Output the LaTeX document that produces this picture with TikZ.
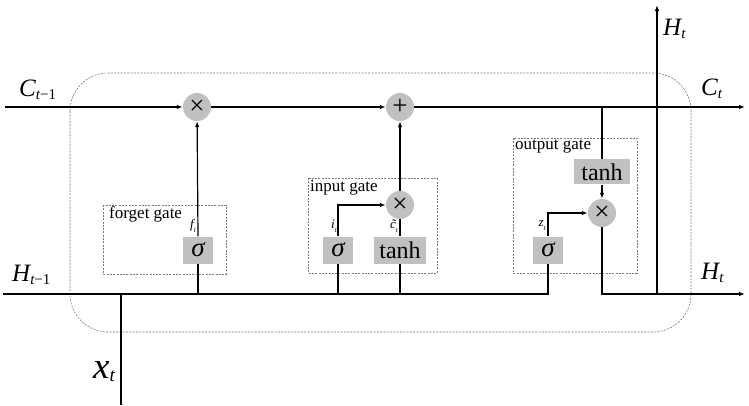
\documentclass[tikz,border=0pt]{standalone}
\usepackage{fontspec}
\setmainfont{Liberation Serif}
\usetikzlibrary{arrows.meta}
\definecolor{gatefill}{RGB}{192,192,192}
\definecolor{dashgray}{RGB}{120,120,120}
\newcommand{\fs}[1]{\fontsize{#1}{#1}\selectfont}
\begin{document}
\begin{tikzpicture}[x=1pt,y=-1pt,
  line/.style={line width=1.2pt,black},
  arr/.style={line, -{Latex[length=6pt,width=4.5pt]}},
  op/.style={circle,fill=gatefill,minimum size=28pt,inner sep=0pt,font=\fs{27}},
  gbox/.style={fill=gatefill,minimum height=27pt,inner sep=0pt},
  sig/.style={gbox,minimum width=30pt,font=\fs{27}\itshape},
  th/.style={gbox,font=\fs{24}},
  gatebox/.style={draw=dashgray,dash pattern=on 2pt off 1.3pt,line width=0.6pt},
  gatelab/.style={font=\fs{17},anchor=north west,inner sep=0pt},
  small/.style={font=\fs{13}\itshape,inner sep=0pt}
]
\useasboundingbox (0,0) rectangle (749,406);

% outer dashed cell
\draw[gatebox,rounded corners=38pt] (70,73) rectangle (691,332);

% gate boxes
\draw[gatebox] (103,205) rectangle (226,274);
\draw[gatebox] (308,178) rectangle (437,273);
\draw[gatebox] (513,138) rectangle (637,273);
\node[gatelab] (lf) at (109,206) {forget gate};
\node[gatelab] (li) at (310,180) {input gate};
\node[gatelab] (lo) at (515,140) {output gate};

% operators
\node[op] (m1) at (197,107) {×};
\node[op] (a1) at (400,107) {+};
\node[op] (m2) at (400,205) {×};
\node[op] (m3) at (602,213) {×};

% activation boxes
\node[sig] (sf) at (198,250) {σ};
\node[sig] (si) at (338,250) {σ};
\node[sig] (so) at (548,250) {σ};
\node[th,minimum width=52pt] (ti) at (400,250) {tanh};
\node[th,minimum width=56pt,minimum height=25pt] (to) at (602,172) {tanh};

% small labels
\node[small] (ft) at (193,226) {f\raisebox{-0.3em}{\fs{7}t}};
\node[small] (it) at (334,226) {i\raisebox{-0.3em}{\fs{7}t}};
\node[small] (ct) at (394,226) {\~{c}\raisebox{-0.3em}{\fs{7}t}};
\node[small] (zt) at (542,226) {z\raisebox{-0.3em}{\fs{7}t}};

% coordinates
\coordinate (cin) at (5,107);
\coordinate (cout) at (745,107);
\coordinate (hin) at (3,294);
\coordinate (hout) at (745,294);
\coordinate (xin) at (121,405);
\coordinate (xj) at (121,294);
\coordinate (htop) at (657,5);
\coordinate (hj) at (657,294);
\coordinate (cj) at (602,107);
\coordinate (ob) at (602,294);
\coordinate (sfb) at (198,294);
\coordinate (sib) at (338,294);
\coordinate (tib) at (400,294);
\coordinate (sob) at (548,294);

% cell state line
\draw[arr] (cin) -- (m1);
\draw[arr] (m1) -- (a1);
\draw[arr] (a1) -- (cout);

% hidden line
\draw[line] (hin) -- (sob) -- (so.south);
\draw[line] (xin) -- (xj);
\draw[line] (sfb) -- (sf.south);
\draw[line] (sib) -- (si.south);
\draw[line] (tib) -- (ti.south);

% forget gate
\draw[arr] (sf.north) -- (m1);

% input gate
\draw[arr] (si.north) |- (m2.west);
\draw[line] (ti.north) -- (m2.south);
\draw[arr] (m2) -- (a1);

% output gate
\draw[line] (cj) -- (to.north);
\draw[arr] (to.south) -- (m3.north);
\draw[arr] (so.north) |- (m3.west);
\draw[arr] (m3.south) -- (ob) -- (hout);
\draw[arr] (hj) -- (htop);

% main labels
\node[anchor=base west,inner sep=0pt] (lc0) at (19,97) {{\fs{25}\itshape C}\raisebox{-0.3em}{\fs{15}\itshape t\upshape −1}};
\node[anchor=base west,inner sep=0pt] (lh0) at (12,281) {{\fs{25}\itshape H}\raisebox{-0.3em}{\fs{15}\itshape t\upshape −1}};
\node[anchor=base west,inner sep=0pt] (lx) at (93,378) {{\fs{37}\itshape x}\raisebox{-0.3em}{\fs{19}\itshape t}};
\node[anchor=base west,inner sep=0pt] (lht) at (663,36) {{\fs{25}\itshape H}\raisebox{-0.3em}{\fs{15}\itshape t}};
\node[anchor=base west,inner sep=0pt] (lct) at (701,96) {{\fs{25}\itshape C}\raisebox{-0.3em}{\fs{15}\itshape t}};
\node[anchor=base west,inner sep=0pt] (lh1) at (701,279) {{\fs{25}\itshape H}\raisebox{-0.3em}{\fs{15}\itshape t}};
\end{tikzpicture}
\end{document}
